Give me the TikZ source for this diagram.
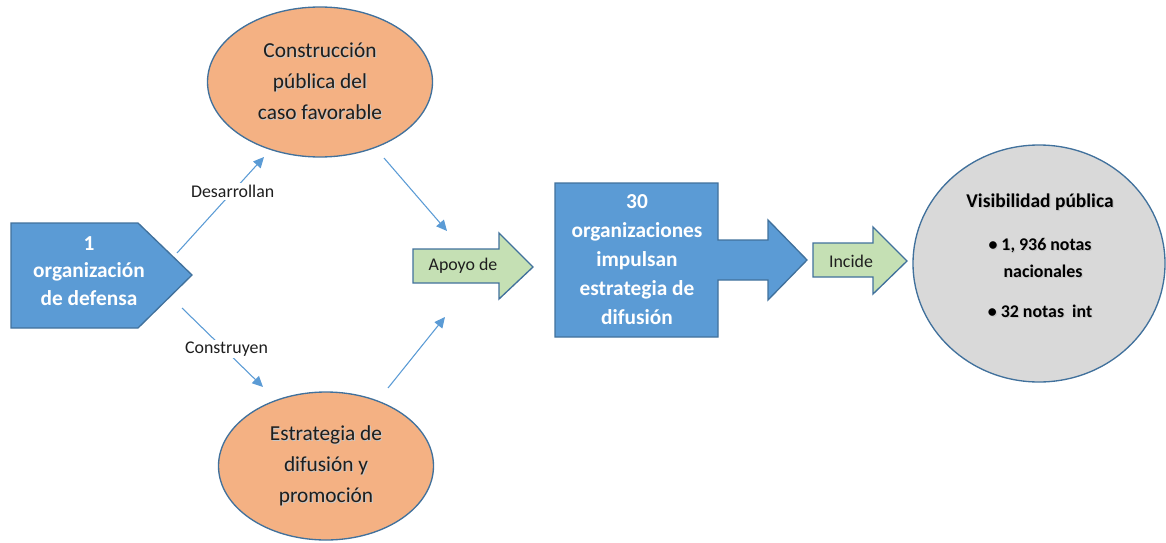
\documentclass[tikz,border=0pt]{standalone}
\usepackage{fontspec}
\setmainfont{Carlito}
\usetikzlibrary{arrows.meta,shapes.geometric}
\definecolor{bluefill}{HTML}{5B9BD5}
\definecolor{blueedge}{HTML}{41719C}
\definecolor{orangefill}{HTML}{F4B183}
\definecolor{greenfill}{HTML}{C5E0B4}
\definecolor{grayfill}{HTML}{D9D9D9}
\definecolor{inkdark}{HTML}{1E1E1E}
% a line of text with a soft grey drop shadow beneath it
\newcommand\shadowline[1]{\makebox[0pt][l]{\hspace{0.9pt}\raisebox{-0.9pt}{\textcolor{black!22}{#1}}}#1}
\begin{document}
\begin{tikzpicture}[x=0.75pt,y=-0.75pt,
  edge/.style={draw=blueedge, line width=1pt, line join=miter},
  bluebox/.style={edge, fill=bluefill},
  greenbox/.style={edge, fill=greenfill},
  oval/.style={ellipse, edge, fill=orangefill, inner sep=0pt, align=center,
    text=inkdark, font=\fontsize{16}{23.25}\selectfont},
  whitebold/.style={align=center, text=white,
    font=\bfseries\fontsize{16}{21.75}\selectfont},
  link/.style={draw=bluefill, line width=0.8pt,
    -{Triangle[length=8pt,width=7.5pt]}},
  lbl/.style={fill=white, inner sep=1.5pt, text=inkdark,
    font=\fontsize{13.4}{15}\selectfont},
  plain/.style={text=inkdark, font=\fontsize{13.4}{15}\selectfont},
  dot/.style={text=black, font=\bfseries\fontsize{13.4}{16}\selectfont}
]
\useasboundingbox (0,0) rectangle (1166,542);

% source organisation (pentagon arrow)
\draw[bluebox] (11,223) -- (138,223) -- (192,275) -- (138,328) -- (11,328) -- cycle;
\node[whitebold, font=\bfseries\fontsize{16}{20.5}\selectfont] (org) at (89,271)
  {1\\organización\\de defensa};

% the two products
\node[oval, minimum width=168.75pt, minimum height=112.5pt] (caso) at (320,82)
  {\shadowline{Construcción}\\\shadowline{pública del}\\\shadowline{caso favorable}};
\node[oval, minimum width=161.25pt, minimum height=111pt] (estr) at (326,466)
  {\shadowline{Estrategia de}\\\shadowline{difusión y}\\\shadowline{promoción}};

% "Apoyo de" block arrow
\draw[greenbox] (413,249) -- (499,249) -- (499,233) -- (533,267) -- (499,299)
  -- (499,283) -- (413,283) -- cycle;
\node[plain] (apoyo) at (463,266) {Apoyo de};

% 30 organisations with outgoing arrow
\draw[bluebox] (555,183) -- (718,183) -- (718,240) -- (768,240) -- (768,220)
  -- (807,260) -- (768,300) -- (768,280) -- (718,280) -- (718,337)
  -- (555,337) -- cycle;
\node[whitebold] (treinta) at (637,260)
  {30\\organizaciones\\impulsan\\estrategia de\\difusión};

% "Incide" block arrow
\draw[greenbox] (813,243) -- (873,243) -- (873,227) -- (907,261) -- (873,294)
  -- (873,277) -- (813,277) -- cycle;
\node[plain] (incide) at (851,261) {Incide};

% public visibility
\node[ellipse, edge, fill=grayfill, minimum width=189pt, minimum height=177.75pt]
  (vis) at (1039,263.5) {};
\node[text=black, font=\bfseries\fontsize{14.6}{17}\selectfont] (vistit)
  at (1040,203) {\shadowline{Visibilidad pública}};
\node[dot] (nac1) at (1040,246) {\shadowline{\textbullet\ 1, 936 notas}};
\node[dot] (nac2) at (1043,272) {\shadowline{nacionales}};
\node[dot] (inter) at (1040,312) {\shadowline{\textbullet\ 32 notas\ \ int}};

% connector end points
\coordinate (a1) at (177,253);
\coordinate (a2) at (264,157);
\coordinate (b1) at (182,308);
\coordinate (b2) at (263,387);
\coordinate (c1) at (384,158);
\coordinate (c2) at (447,231);
\coordinate (d1) at (388,388);
\coordinate (d2) at (445,317);

\draw[link] (a1) -- node[lbl, pos=0.64] (desar) {Desarrollan} (a2);
\draw[link] (b1) -- node[lbl, pos=0.55, yshift=2pt] (constr) {Construyen} (b2);
\draw[link] (c1) -- (c2);
\draw[link] (d1) -- (d2);
\end{tikzpicture}
\end{document}
